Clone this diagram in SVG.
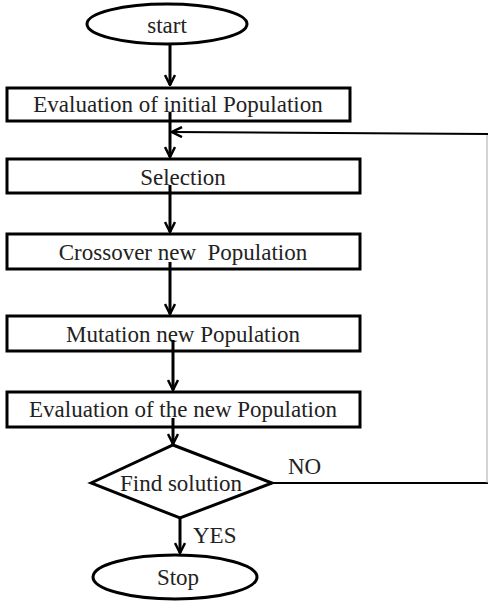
<svg xmlns="http://www.w3.org/2000/svg" width="488" height="604" viewBox="0 0 488 604">
<defs>
<marker id="ah" viewBox="0 0 12 12" refX="11" refY="6" markerWidth="12" markerHeight="12" markerUnits="userSpaceOnUse" orient="auto">
<path d="M1,1 L11,6 L1,11" fill="none" stroke="#000" stroke-width="2.5"/>
</marker>
</defs>
<style>
.sh{fill:#fff;stroke:#000;stroke-width:3}
.t{font-family:"Liberation Serif","Times New Roman",serif;font-size:23px;fill:#222;text-anchor:middle}
.l{font-family:"Liberation Serif","Times New Roman",serif;font-size:23px;fill:#222}
.c{stroke:#000;stroke-width:3;fill:none}
.th{stroke:#000;stroke-width:2;fill:none}
</style>
<rect width="488" height="604" fill="#fff"/>
<g id="start"><ellipse class="sh" cx="167" cy="24" rx="80" ry="20"/><text class="t" x="167" y="33">start</text></g>
<g id="eval-initial"><rect class="sh" x="7" y="88" width="343" height="33"/><text class="t" x="178" y="112">Evaluation of initial Population</text></g>
<g id="selection"><rect class="sh" x="7" y="159" width="353" height="34"/><text class="t" x="183" y="185">Selection</text></g>
<g id="crossover"><rect class="sh" x="7" y="234" width="353" height="35"/><text class="t" x="183" y="260" xml:space="preserve">Crossover new  Population</text></g>
<g id="mutation"><rect class="sh" x="7" y="316" width="353" height="35"/><text class="t" x="183" y="342">Mutation new Population</text></g>
<g id="eval-new"><rect class="sh" x="7" y="392" width="353" height="35"/><text class="t" x="183" y="417">Evaluation of the new Population</text></g>
<g id="find"><polygon class="sh" points="91,483 173,445 272,483 180,518"/><text class="t" x="181" y="491">Find solution</text></g>
<g id="stop"><ellipse class="sh" cx="175" cy="577" rx="82" ry="22"/><text class="t" x="178" y="585">Stop</text></g>
<g id="connectors">
<line class="c" x1="170" y1="45" x2="170" y2="85" marker-end="url(#ah)"/>
<line class="c" x1="170" y1="112" x2="170" y2="157" marker-end="url(#ah)"/>
<line class="c" x1="170" y1="185" x2="170" y2="232" marker-end="url(#ah)"/>
<line class="c" x1="170" y1="262" x2="170" y2="314" marker-end="url(#ah)"/>
<line class="c" x1="173" y1="340" x2="173" y2="390" marker-end="url(#ah)"/>
<line class="c" x1="173" y1="418" x2="173" y2="444" marker-end="url(#ah)"/>
<line class="c" x1="180" y1="518" x2="180" y2="553" marker-end="url(#ah)"/>
<line class="th" x1="272" y1="483" x2="488" y2="483"/>
<line x1="487" y1="134" x2="487" y2="483" stroke="#aaa" stroke-width="1"/>
<line class="th" x1="488" y1="134" x2="172" y2="132" marker-end="url(#ah)"/>
<text class="l" x="288" y="474">NO</text>
<text class="l" x="193" y="543">YES</text>
</g>
</svg>
